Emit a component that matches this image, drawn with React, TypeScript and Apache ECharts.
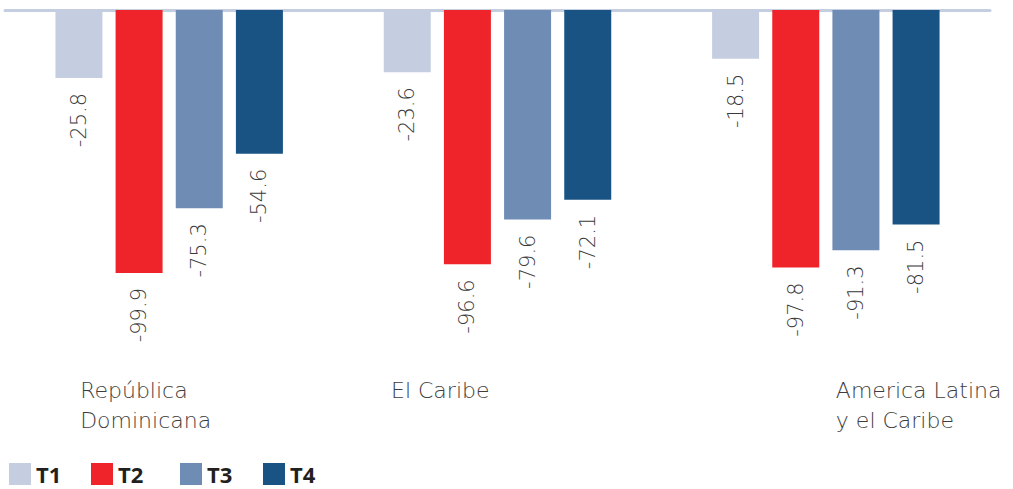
import React, { useEffect, useRef } from "react";
import * as echarts from "echarts";

const categories = ["República\nDominicana", "El Caribe", "America Latina\ny el Caribe"];
const seriesNames = ["T1", "T2", "T3", "T4"];
const t1 = [-25.8, -23.6, -18.5];
const t2 = [-99.9, -96.6, -97.8];
const t3 = [-75.3, -79.6, -91.3];
const t4 = [-54.6, -72.1, -81.5];
const colors = ["#c5cee1", "#ee242a", "#6f8cb4", "#185384"];
const legendLefts = [9, 91, 180, 263];

export default function App() {
  const ref = useRef<HTMLDivElement>(null);
  useEffect(() => {
    if (!ref.current) return;
    document.documentElement.style.overflow = "hidden";
    document.body.style.margin = "0";
    document.body.style.overflow = "hidden";
    const chart = echarts.init(ref.current, undefined, { renderer: "svg" });
    const data = [t1, t2, t3, t4];
    const catFont = "'DejaVu Sans', sans-serif";
    chart.setOption({
      animation: false,
      grid: { left: 5, right: 23, top: 10, height: 363.3, outerBoundsMode: "none", containLabel: false },
      legend: seriesNames.map((name, k) => ({
        left: legendLefts[k],
        top: 463,
        padding: 0,
        itemWidth: 22,
        itemHeight: 22,
        itemGap: 0,
        icon: "rect",
        selectedMode: false,
        textStyle: {
          fontFamily: "'Open Sans', sans-serif",
          fontWeight: "bold",
          fontSize: 22,
          lineHeight: 22,
          color: "#231f20",
        },
        data: [name],
      })),
      xAxis: [
        {
          type: "category",
          data: categories,
          position: "top",
          axisLine: { show: true, onZero: false, lineStyle: { color: "#c5cee1", width: 3 } },
          axisTick: { show: false },
          axisLabel: { show: false },
        },
        {
          type: "category",
          data: categories,
          position: "bottom",
          axisLine: { show: false },
          axisTick: { show: false },
          axisLabel: {
            show: true,
            interval: 0,
            margin: 2,
            formatter: (v: string, i: number) =>
              v
                .split("\n")
                .map((s) => `{c${i}|${s}}`)
                .join("\n"),
            rich: {
              c0: { width: 178, align: "left", fontSize: 22, lineHeight: 30, fontFamily: catFont, fontWeight: 200, color: "#3d3d3d" },
              c1: { width: 213, align: "left", fontSize: 22, lineHeight: 30, fontFamily: catFont, fontWeight: 200, color: "#3d3d3d" },
              c2: { width: 175, padding: [0, 0, 0, 195], align: "left", fontSize: 22, lineHeight: 30, fontFamily: catFont, fontWeight: 200, color: "#3d3d3d" },
            },
          },
        },
      ],
      yAxis: {
        type: "value",
        min: -138,
        max: 0,
        show: false,
        splitLine: { show: false },
      },
      series: seriesNames.map((name, k) => ({
        name,
        type: "bar",
        xAxisIndex: 0,
        data: data[k],
        barWidth: 47,
        barGap: "28%",
        itemStyle: { color: colors[k] },
        label: {
          show: true,
          position: "bottom",
          distance: 15,
          rotate: 90,
          align: "right",
          verticalAlign: "middle",
          fontSize: 21,
          fontFamily: catFont,
          fontWeight: 200,
          color: "#3a3a3a",
          formatter: (p: any) => String(p.value),
        },
      })),
    });
    return () => chart.dispose();
  }, []);
  return <div ref={ref} style={{ position: "absolute", left: 0, top: 0, width: 1013, height: 489 }} />;
}
